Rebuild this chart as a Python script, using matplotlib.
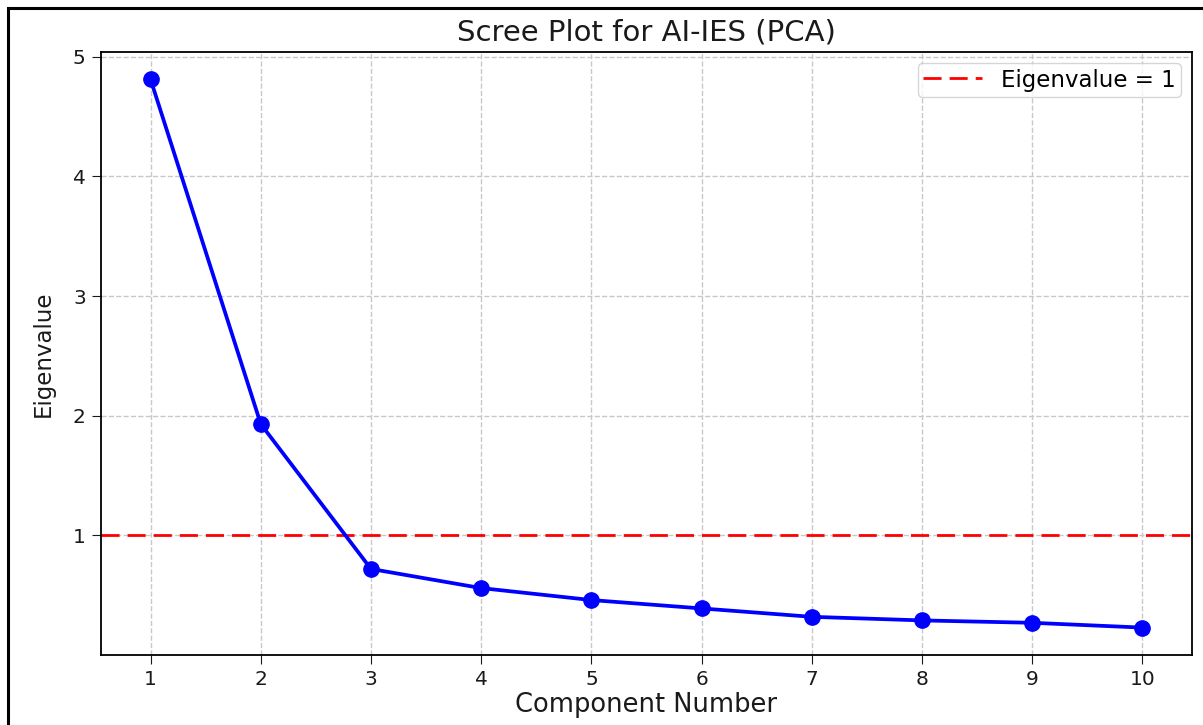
import matplotlib
matplotlib.use("Agg")
import matplotlib.pyplot as plt
from matplotlib.patches import Rectangle

components = [1, 2, 3, 4, 5, 6, 7, 8, 9, 10]
eigenvalues = [4.81, 1.93, 0.72, 0.56, 0.46, 0.39, 0.32, 0.29, 0.27, 0.23]
threshold = 1
title = "Scree Plot for AI-IES (PCA)"
xlabel = "Component Number"
ylabel = "Eigenvalue"
legend_label = "Eigenvalue = 1"

plt.rcParams['font.family'] = ['DejaVu Sans']

fig = plt.figure(figsize=(12.03, 7.25), dpi=100)
ax = fig.add_axes([101/1203, 1-655/725, (1192-101)/1203, (655-52)/725])

ax.plot(components, eigenvalues, color='blue', marker='o', markersize=11,
        linewidth=2.7, zorder=3)
ax.axhline(threshold, color='red', linestyle=(0, (6.5, 2.9)), linewidth=2,
           label=legend_label, zorder=2)

ax.set_xticks(components)
ax.set_title(title, fontsize=21, pad=8, color='#1a1a1a')
ax.set_xlabel(xlabel, fontsize=18.5, color='#1a1a1a', labelpad=2)
ax.set_ylabel(ylabel, fontsize=16.5, color='#1a1a1a', labelpad=13)
ax.tick_params(labelsize=14.5, length=6.5, pad=4.5, colors='#1a1a1a')
ax.grid(True, linestyle='--', color='#c8c8c8', linewidth=1)
ax.set_axisbelow(True)
for s in ax.spines.values():
    s.set_linewidth(1.3)

leg = ax.legend(loc='upper right', fontsize=16.5, handlelength=2.6,
                borderpad=0.22, handletextpad=0.8, framealpha=0.8,
                borderaxespad=0.5)

fig.add_artist(Rectangle((8/1203, -0.2), 1.5, 1.2 - 8/725,
                         transform=fig.transFigure, fill=False,
                         edgecolor='black', linewidth=2.2, clip_on=False))

fig.savefig("out.png", dpi=100)
